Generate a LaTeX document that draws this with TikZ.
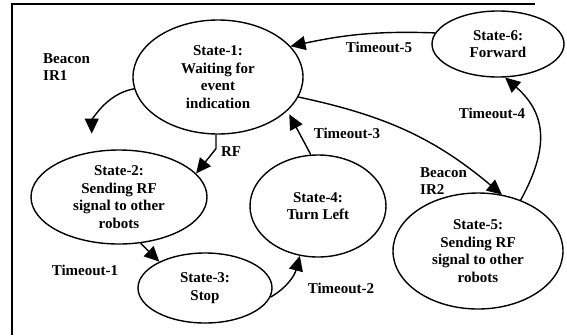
\documentclass[tikz,border=0pt]{standalone}
\usepackage{fontspec}
\setmainfont{Liberation Serif}
\usetikzlibrary{shapes.geometric,arrows.meta}
\begin{document}
\begin{tikzpicture}[x=1pt,y=-1pt,
  every node/.style={font=\fontsize{15}{17.5}\selectfont\bfseries},
  stbox/.style={ellipse,draw,line width=1.4pt,inner sep=0pt,align=center},
  lbl/.style={inner sep=0pt,align=left},
  conn/.style={line width=1.4pt,-{Triangle[length=15pt,width=14pt]}}]
\useasboundingbox (0,0) rectangle (567,335);
\fill[white] (0,0) rectangle (567,335);
% frame (only top and left sides visible)
\coordinate (fa) at (535,4);
\coordinate (fb) at (12,4);
\coordinate (fc) at (12,335);
\draw[line width=2.8pt] (fa) -- (fb) -- (fc);
% states
\node[stbox,minimum width=170pt,minimum height=114pt] (s1) at (218,77) {State-1:\\Waiting for\\event\\indication};
\node[stbox,minimum width=176pt,minimum height=94pt] (s2) at (119,197) {State-2:\\Sending RF\\signal to other\\robots};
\node[stbox,minimum width=134pt,minimum height=70pt] (s3) at (205,288) {State-3:\\Stop};
\node[stbox,minimum width=136pt,minimum height=102pt] (s4) at (318,206) {State-4:\\Turn Left};
\node[stbox,minimum width=170pt,minimum height=116pt] (s5) at (478,251) {State-5:\\Sending RF\\signal to other\\robots};
\node[stbox,minimum width=132pt,minimum height=66pt] (s6) at (498,44) {State-6:\\Forward};
% connectors
\draw[conn,shorten >=18pt] (s1.188) to[out=190,in=90] (s2.121);
\draw[conn] (s1.268) -- ++(0,14) -- (s2.17);
\draw[conn] (s2.-65) -- (s3.150);
\draw[conn] (s3.-8) to[out=30,in=-105] (s4.-110);
\draw[conn,shorten >=4pt] (s4.98) -- (s1.-26);
\draw[conn] (s1.-14) to[out=-12,in=140] (s5.67);
\draw[conn] (s5.50) .. controls (548,150) and (548,115) .. (s6.-78);
\draw[conn] (s6.170) to[out=178,in=12] (s1.23);
% labels
\node[lbl,anchor=west] (lb1) at (43,67) {Beacon\\IR1};
\node[lbl] (lrf) at (231,152) {RF};
\node[lbl] (lt1) at (85,270) {Timeout-1};
\node[lbl] (lt2) at (341,288) {Timeout-2};
\node[lbl] (lt3) at (347,133) {Timeout-3};
\node[lbl,anchor=west] (lb2) at (420,181) {Beacon\\IR2};
\node[lbl] (lt4) at (492,113) {Timeout-4};
\node[lbl] (lt5) at (379,47) {Timeout-5};
\end{tikzpicture}
\end{document}
